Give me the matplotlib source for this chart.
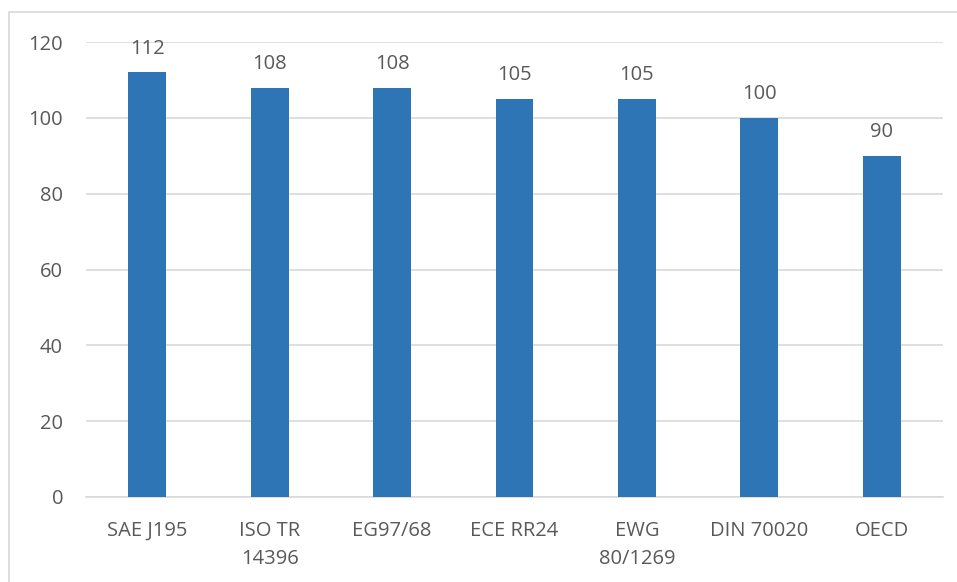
import matplotlib
matplotlib.use("Agg")
import matplotlib.pyplot as plt
from matplotlib.patches import Rectangle

categories = ["SAE J195", "ISO TR\n14396", "EG97/68", "ECE RR24", "EWG\n80/1269", "DIN 70020", "OECD"]
values = [112, 108, 108, 105, 105, 100, 90]
yticks = [0, 20, 40, 60, 80, 100, 120]

plt.rcParams["font.family"] = ["Open Sans", "DejaVu Sans"]

W, H = 957, 582
fig = plt.figure(figsize=(W / 100, H / 100), dpi=100)
ax = fig.add_axes([86 / W, 1 - 497 / H, (943 - 86) / W, (497 - 42) / H])

bar_color = "#2E75B6"
text_color = "#595959"
grid_color = "#D9D9D9"
fs = 14.5

x = range(len(categories))
bars = ax.bar(x, values, width=0.31, color=bar_color, zorder=3)
ax.set_xlim(-0.5, len(categories) - 0.5)
ax.set_ylim(0, 120)
ax.set_yticks(yticks)
ax.set_yticklabels([str(t) for t in yticks])
ax.set_xticks(list(x))
ax.set_xticklabels(categories, linespacing=1.55)

ax.yaxis.grid(True, color=grid_color, linewidth=1.2, zorder=0)
for s in ["top", "right", "left"]:
    ax.spines[s].set_visible(False)
ax.spines["bottom"].set_color(grid_color)
ax.spines["bottom"].set_linewidth(1.2)
ax.tick_params(axis="both", length=0, labelsize=fs, colors=text_color)
ax.tick_params(axis="y", pad=16.5)
ax.tick_params(axis="x", pad=17)

for rect, v in zip(bars, values):
    ax.annotate(str(v), (rect.get_x() + rect.get_width() / 2, v),
                xytext=(0, 17), textcoords="offset points",
                ha="center", va="center", fontsize=fs, color=text_color)

# chart frame
fig.patches.append(Rectangle((9 / W, -0.1), 1.2, 1 - 12 / H + 0.1,
                             transform=fig.transFigure, fill=False,
                             edgecolor=grid_color, linewidth=1.2))

fig.savefig("out.png", dpi=100, facecolor="white")
